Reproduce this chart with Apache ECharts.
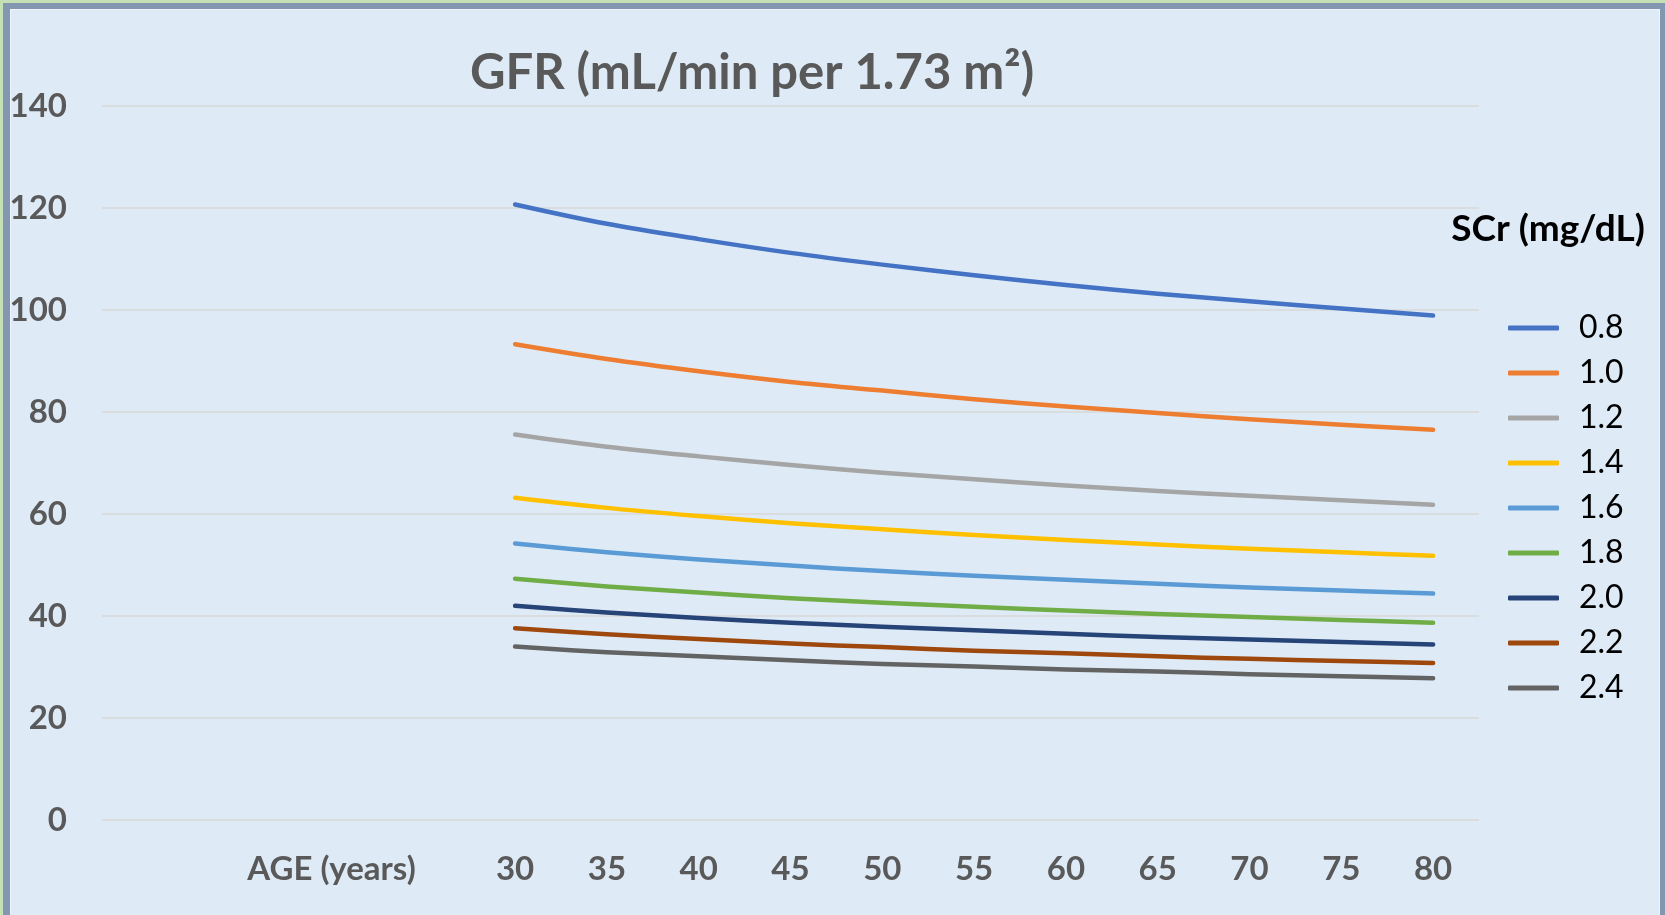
<!DOCTYPE html>
<html>
<head>
<meta charset="utf-8">
<title>GFR by age and serum creatinine</title>
<script src="https://cdn.jsdelivr.net/npm/echarts@6/dist/echarts.min.js"></script>
<style>
  html, body { margin: 0; padding: 0; width: 1665px; height: 915px; overflow: hidden; background: #C5E0B4; }
  #frame {
    position: absolute; left: 3px; top: 3px; width: 1650px; height: 1000px;
    border-left: 7px solid #8497B0; border-top: 6px solid #8497B0; border-right: 5px solid #8497B0;
    background: #DEEBF7;
    box-shadow: inset 1px 1px 0 #EEF4FB, inset -1px 0 0 #EEF4FB;
  }
  #chart { position: absolute; left: 0; top: 0; width: 1665px; height: 915px; }
</style>
</head>
<body>
<div id="frame"></div>
<div id="chart"></div>
<script>
// Age axis: two empty slots, the axis caption slot, a spacer, then ages 30..80
const leadSlots = ['', '', 'AGE (years)', ''];
const ages = ['30', '35', '40', '45', '50', '55', '60', '65', '70', '75', '80'];

// Serum creatinine levels (mg/dL), one curve each
const scrLevels = ['0.8', '1.0', '1.2', '1.4', '1.6', '1.8', '2.0', '2.2', '2.4'];

// GFR (mL/min per 1.73 m²) at each age, per creatinine level
const gfr08 = [120.7, 116.9, 113.9, 111.2, 108.9, 106.8, 104.9, 103.2, 101.7, 100.3, 98.9];
const gfr10 = [93.3, 90.4, 88.0, 85.9, 84.2, 82.5, 81.1, 79.8, 78.6, 77.5, 76.5];
const gfr12 = [75.6, 73.2, 71.3, 69.6, 68.1, 66.8, 65.6, 64.5, 63.6, 62.7, 61.8];
const gfr14 = [63.2, 61.2, 59.6, 58.2, 57.0, 55.9, 54.9, 54.0, 53.2, 52.5, 51.8];
const gfr16 = [54.2, 52.5, 51.1, 49.9, 48.8, 47.9, 47.1, 46.3, 45.6, 45.0, 44.4];
const gfr18 = [47.3, 45.8, 44.6, 43.5, 42.6, 41.8, 41.1, 40.4, 39.8, 39.2, 38.7];
const gfr20 = [42.0, 40.7, 39.6, 38.7, 37.9, 37.2, 36.5, 35.9, 35.4, 34.9, 34.4];
const gfr22 = [37.6, 36.4, 35.5, 34.6, 33.9, 33.2, 32.7, 32.1, 31.6, 31.2, 30.8];
const gfr24 = [34.0, 32.9, 32.1, 31.3, 30.6, 30.1, 29.5, 29.1, 28.6, 28.2, 27.8];

// Y axis ticks
const yMin = 0, yMax = 140, yStep = 20;

const gfrSeries = [gfr08, gfr10, gfr12, gfr14, gfr16, gfr18, gfr20, gfr22, gfr24];
const palette = ['#4472C4', '#ED7D31', '#A5A5A5', '#FFC000', '#5B9BD5', '#70AD47', '#264478', '#9E480E', '#636363'];

const categories = leadSlots.concat(ages);
const pad = leadSlots.map(() => null);

const FONT = 'Lato';
const AXIS_GREY = '#595959';

const chart = echarts.init(document.getElementById('chart'), null, { renderer: 'canvas' });

chart.setOption({
  backgroundColor: 'transparent',
  animation: false,
  color: palette,
  graphic: [
    {
      type: 'text', x: 752, y: 73,
      style: {
        text: 'GFR (mL/min per 1.73 m²)', fill: AXIS_GREY,
        font: 'bold 49px ' + FONT, align: 'center', verticalAlign: 'middle'
      }
    },
    {
      type: 'text', x: 1548, y: 229,
      style: {
        text: 'SCr (mg/dL)', fill: '#000000',
        font: 'bold 37px ' + FONT, align: 'center', verticalAlign: 'middle'
      }
    }
  ],
  legend: {
    orient: 'vertical',
    left: 1503, top: 305,
    icon: 'roundRect',
    itemWidth: 51, itemHeight: 5,
    itemGap: 9,
    data: scrLevels,
    textStyle: {
      color: '#000000', fontFamily: FONT, fontSize: 32, lineHeight: 36,
      padding: [0, 0, 0, 15]
    }
  },
  grid: { left: 102, right: 186, top: 106, bottom: 95, containLabel: false },
  xAxis: {
    type: 'category',
    data: categories,
    boundaryGap: true,
    axisLine: { show: false },
    axisTick: { show: false },
    axisLabel: {
      interval: 0, margin: 33,
      color: AXIS_GREY, fontFamily: FONT, fontWeight: 'bold', fontSize: 33
    },
    splitLine: { show: false }
  },
  yAxis: {
    type: 'value',
    min: yMin, max: yMax, interval: yStep,
    axisLine: { show: false },
    axisTick: { show: false },
    axisLabel: {
      margin: 35,
      color: AXIS_GREY, fontFamily: FONT, fontWeight: 'bold', fontSize: 33
    },
    splitLine: { lineStyle: { color: '#D9D9D9', width: 1.5 } }
  },
  series: gfrSeries.map((vals, i) => ({
    name: scrLevels[i],
    type: 'line',
    data: pad.concat(vals),
    smooth: 0.35,
    symbol: 'none',
    connectNulls: false,
    lineStyle: { width: 4.5, cap: 'round', join: 'round', color: palette[i] },
    itemStyle: { color: palette[i] }
  }))
});
</script>
</body>
</html>
